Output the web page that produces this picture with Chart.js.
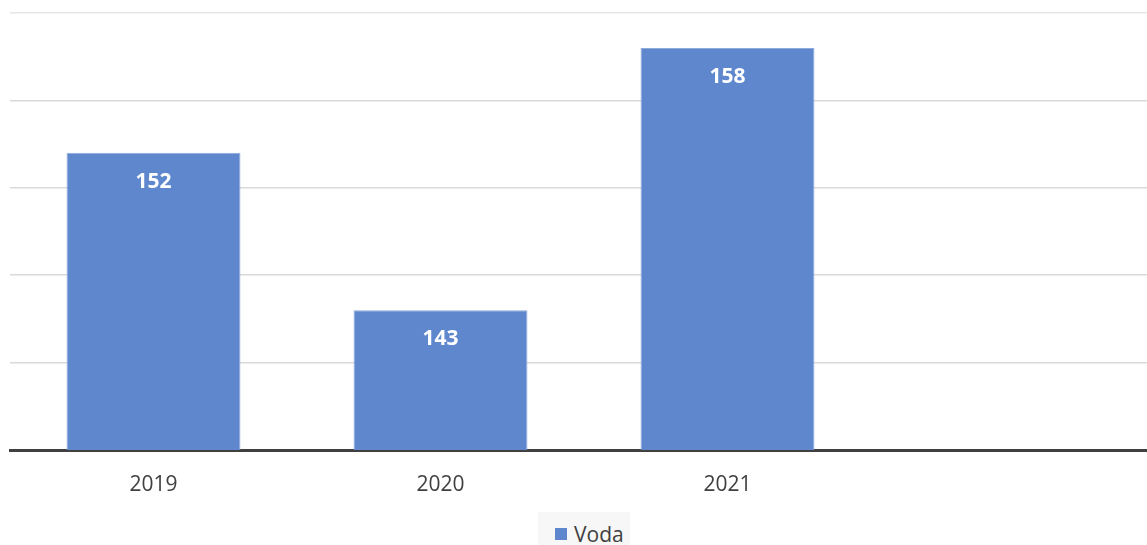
<!DOCTYPE html>
<html>
<head>
<meta charset="utf-8">
<script src="https://cdn.jsdelivr.net/npm/chart.js@4.4.1/dist/chart.umd.min.js"></script>
<style>
  html, body { margin: 0; padding: 0; background: #fff; overflow: hidden; }
  #wrap { width: 1158px; height: 545px; position: relative; }
  #plot { width: 1158px; height: 500px; position: absolute; left: 0; top: 0; }
  #legend {
    position: absolute; left: 538px; top: 512px; width: 92px; height: 33px;
    box-sizing: border-box; padding: 11px 0 0 17px;
    background: #f7f7f7; display: flex; align-items: center;
    font: 21px "Open Sans", sans-serif; color: #404040; line-height: 22px;
  }
  #legend .sw { width: 12px; height: 12px; background: #5f87cd; margin-right: 7px; flex: none; }
</style>
</head>
<body>
<div id="wrap">
  <div id="plot"><canvas id="chart"></canvas></div>
  <div id="legend"><span class="sw"></span><span id="legendText"></span></div>
</div>
<script>
const years = ['2019', '2020', '2021', ''];
const voda = [152, 143, 158, null];
const seriesName = 'Voda';
const yMin = 135;
const yMax = 160;
const yStep = 5;

document.getElementById('legendText').textContent = seriesName;

// white value labels inside the top of each bar
const barLabels = {
    id: 'barLabels',
    afterDatasetsDraw(chart) {
        const c = chart.ctx;
        const meta = chart.getDatasetMeta(0);
        c.save();
        c.font = 'bold 21px "Open Sans", sans-serif';
        c.fillStyle = '#ffffff';
        c.textAlign = 'center';
        c.textBaseline = 'middle';
        meta.data.forEach((bar, i) => {
            if (voda[i] == null) return;
            c.fillText(String(voda[i]), bar.x, bar.y + 29);
        });
        c.restore();
    }
};

new Chart(document.getElementById('chart'), {
    type: 'bar',
    data: {
        labels: years,
        datasets: [{
            label: seriesName,
            data: voda,
            backgroundColor: '#5f87cd',
            borderColor: '#8eaadb',
            borderWidth: 1,
            categoryPercentage: 1,
            barPercentage: 0.606
        }]
    },
    options: {
        responsive: true,
        maintainAspectRatio: false,
        animation: false,
        layout: {
            padding: { left: 10, right: 0, top: 13, bottom: 0 }
        },
        scales: {
            x: {
                grid: { display: false },
                border: { display: true, color: '#404040', width: 3 },
                ticks: {
                    color: '#404040',
                    font: { size: 21, family: '"Open Sans", sans-serif' },
                    padding: 14
                },
                afterFit(scale) { scale.height = 50; }
            },
            y: {
                min: yMin,
                max: yMax,
                ticks: { display: false, stepSize: yStep },
                border: { display: false },
                grid: {
                    color: (ctx) => ctx.tick && ctx.tick.value === yMax ? '#e6e6e6' : '#d9d9d9',
                    lineWidth: 1.5,
                    drawTicks: false
                }
            }
        },
        plugins: {
            legend: { display: false },
            tooltip: { enabled: false }
        }
    },
    plugins: [barLabels]
});
</script>
</body>
</html>
